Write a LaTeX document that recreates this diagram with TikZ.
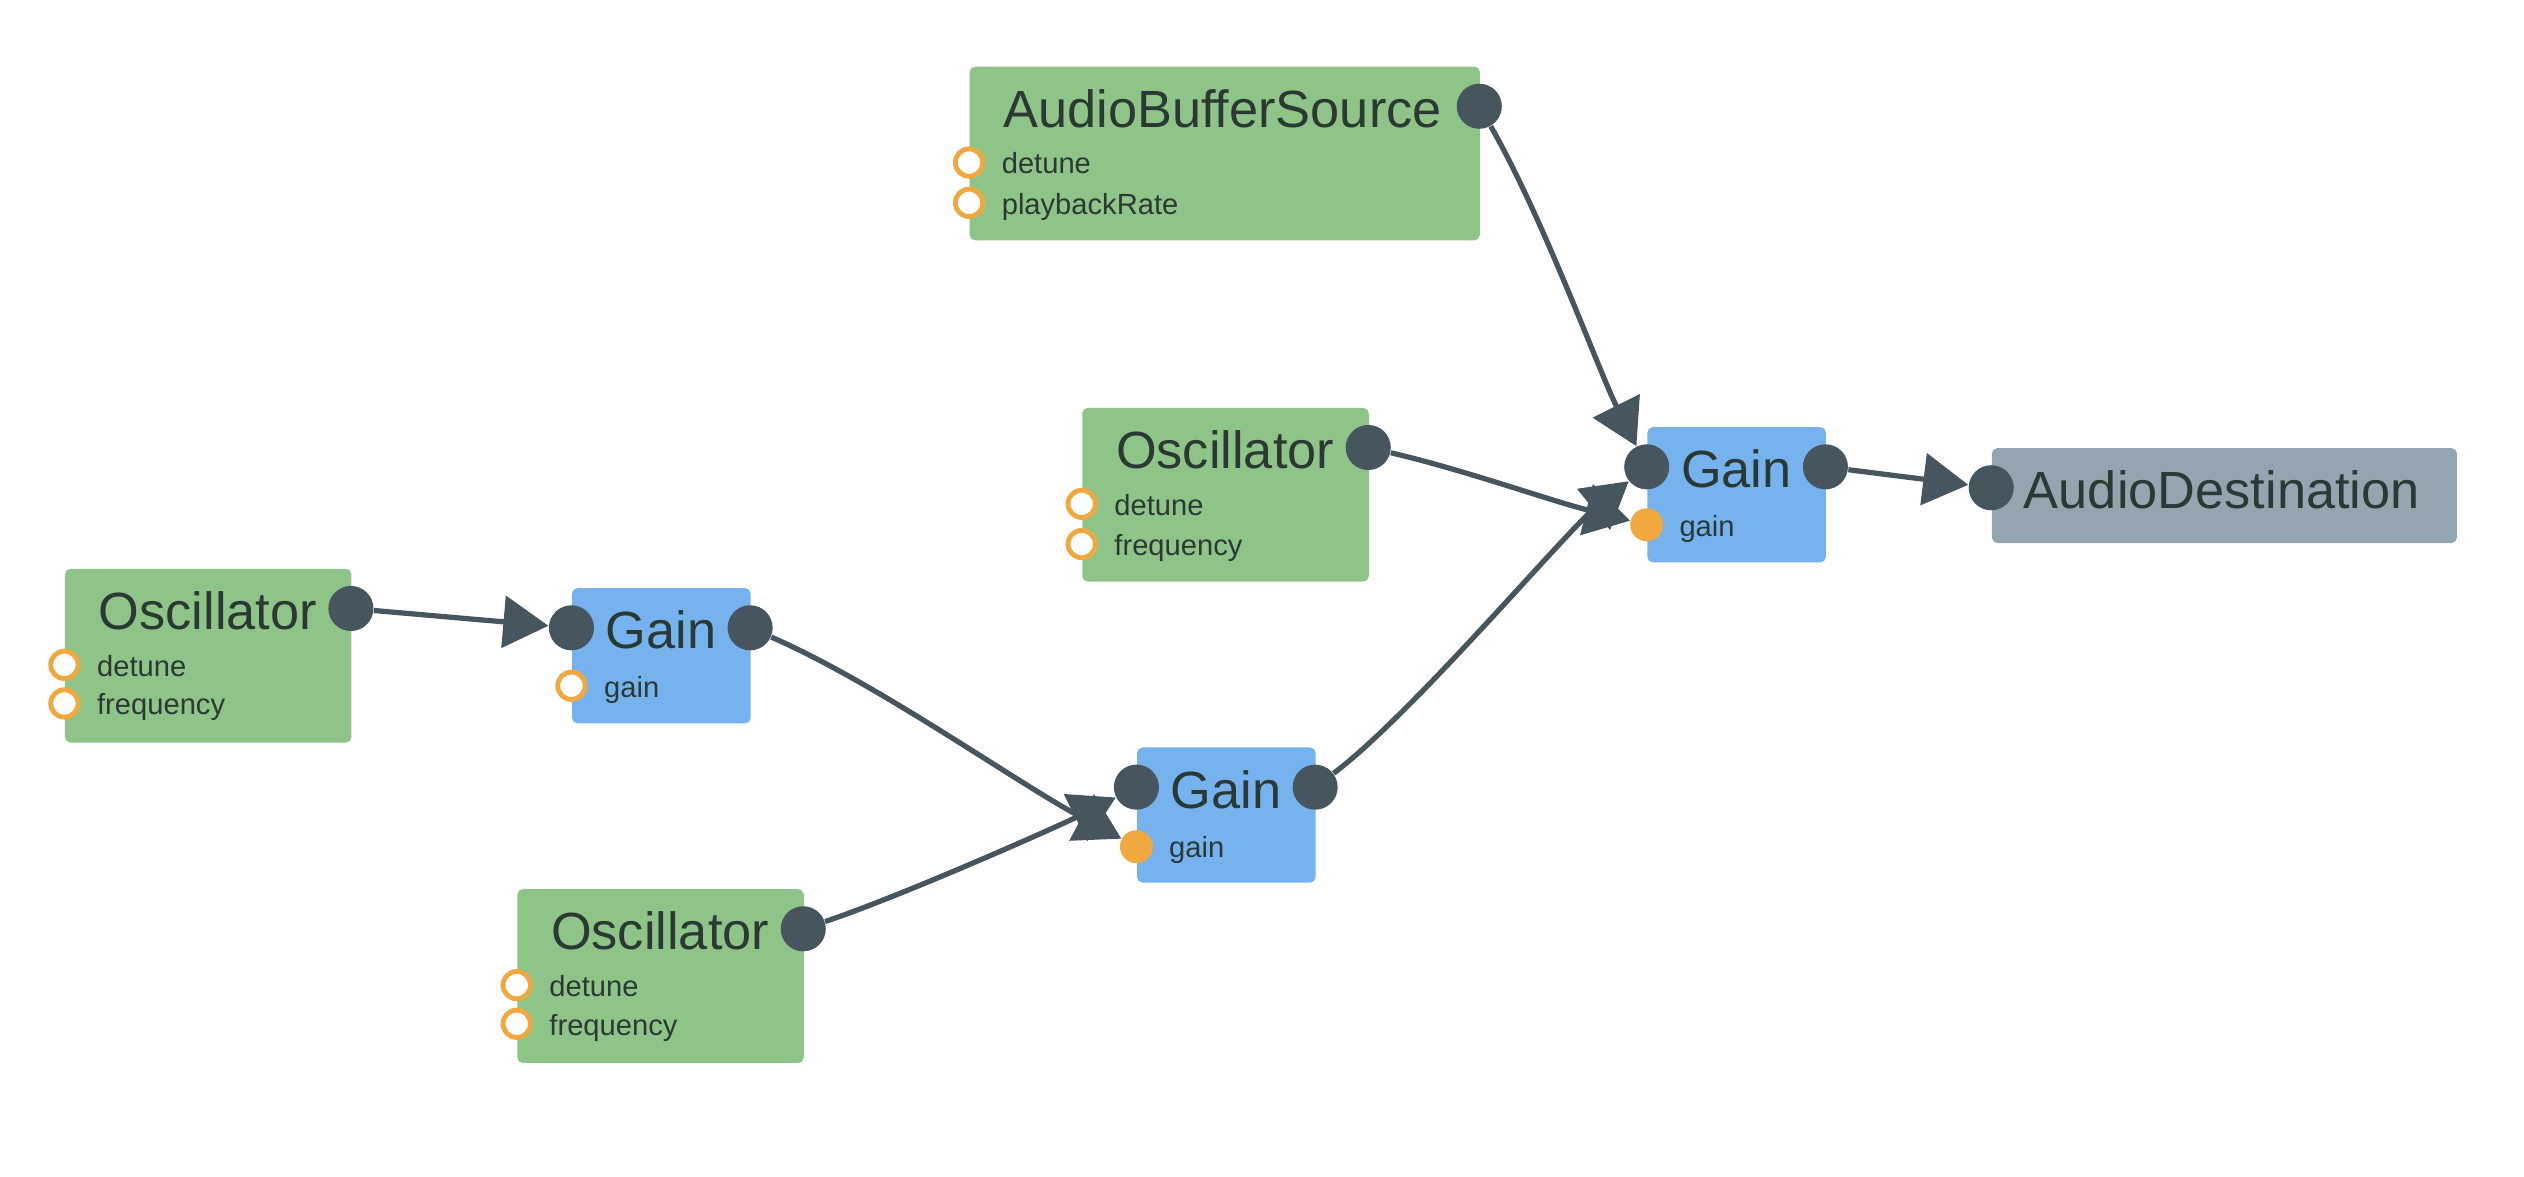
\documentclass[tikz,border=0pt]{standalone}
\usepackage{fontspec}
\setmainfont{Liberation Sans}
\usetikzlibrary{arrows.meta}

\definecolor{nodegreen}{HTML}{8EC487}
\definecolor{gainblue}{HTML}{76B3EE}
\definecolor{destgrey}{HTML}{95A5AF}
\definecolor{portdark}{HTML}{46555E}
\definecolor{paramorange}{HTML}{F0A83F}
\definecolor{textdark}{HTML}{2B3934}

\tikzset{
    box/.style={anchor=north west, inner sep=0pt, rounded corners=0.7mm},
    greenbox/.style={box, fill=nodegreen, minimum height=21.6mm},
    gainbox/.style={box, fill=gainblue, minimum width=22.2mm, minimum height=16.8mm},
    destbox/.style={box, fill=destgrey, minimum width=57.8mm, minimum height=11.8mm},
    heading/.style={anchor=base west, inner sep=0pt, text=textdark, font=\fontsize{18.5}{20}\selectfont},
    paramlabel/.style={anchor=base west, inner sep=0pt, text=textdark, font=\fontsize{10.3}{12}\selectfont},
    port/.style={circle, fill=portdark, inner sep=0pt, minimum size=5.6mm},
    inport/.style={circle, draw=paramorange, line width=0.6mm, fill=white, inner sep=0pt, minimum size=3.4mm},
    inportset/.style={circle, fill=paramorange, inner sep=0pt, minimum size=4.1mm},
    wire/.style={draw=portdark, line width=0.65mm, -{Triangle[length=5.6mm, width=6.4mm]}}
}

\begin{document}
\begin{tikzpicture}[x=0.2mm, y=-0.2mm]
    \useasboundingbox (0,0) rectangle (1568,731);

    % AudioBufferSource
    \node[greenbox, minimum width=63.4mm] (abs) at (602,41) {};
    \node[heading] (abs-title) at (623,79) {AudioBufferSource};
    \node[port] (abs-out) at (919,66) {};
    \node[inport] (abs-detune) at (602,101) {};
    \node[paramlabel] (abs-detune-txt) at (622,108) {detune};
    \node[inport] (abs-rate) at (602,126) {};
    \node[paramlabel] (abs-rate-txt) at (622,133) {playbackRate};

    % oscillators
    \node[greenbox, minimum width=35.6mm] (oscA) at (40,353) {};
    \node[heading] (oscA-title) at (61,391) {Oscillator};
    \node[port] (oscA-out) at (218,378) {};
    \node[inport] (oscA-detune) at (40,413) {};
    \node[paramlabel] (oscA-detune-txt) at (60,420) {detune};
    \node[inport] (oscA-freq) at (40,437) {};
    \node[paramlabel] (oscA-freq-txt) at (60,444) {frequency};

    \node[greenbox, minimum width=35.6mm] (oscB) at (672,253) {};
    \node[heading] (oscB-title) at (693,291) {Oscillator};
    \node[port] (oscB-out) at (850,278) {};
    \node[inport] (oscB-detune) at (672,313) {};
    \node[paramlabel] (oscB-detune-txt) at (692,320) {detune};
    \node[inport] (oscB-freq) at (672,338) {};
    \node[paramlabel] (oscB-freq-txt) at (692,345) {frequency};

    \node[greenbox, minimum width=35.6mm] (oscC) at (321,552) {};
    \node[heading] (oscC-title) at (342,590) {Oscillator};
    \node[port] (oscC-out) at (499,577) {};
    \node[inport] (oscC-detune) at (321,612) {};
    \node[paramlabel] (oscC-detune-txt) at (341,619) {detune};
    \node[inport] (oscC-freq) at (321,636) {};
    \node[paramlabel] (oscC-freq-txt) at (341,643) {frequency};

    % gains
    \node[gainbox] (gainA) at (355,365) {};
    \node[heading] (gainA-title) at (376,403) {Gain};
    \node[port] (gainA-in) at (355,390) {};
    \node[port] (gainA-out) at (466,390) {};
    \node[inport] (gainA-gain) at (355,426) {};
    \node[paramlabel] (gainA-gain-txt) at (375,433) {gain};

    \node[gainbox] (gainB) at (706,464) {};
    \node[heading] (gainB-title) at (727,502) {Gain};
    \node[port] (gainB-in) at (706,489) {};
    \node[port] (gainB-out) at (817,489) {};
    \node[inportset] (gainB-gain) at (706,526) {};
    \node[paramlabel] (gainB-gain-txt) at (726,533) {gain};

    \node[gainbox] (gainC) at (1023,265) {};
    \node[heading] (gainC-title) at (1044,303) {Gain};
    \node[port] (gainC-in) at (1023,290) {};
    \node[port] (gainC-out) at (1134,290) {};
    \node[inportset] (gainC-gain) at (1023,326) {};
    \node[paramlabel] (gainC-gain-txt) at (1043,333) {gain};

    % AudioDestination
    \node[destbox] (dest) at (1237,278) {};
    \node[heading] (dest-title) at (1257,316) {AudioDestination};
    \node[port] (dest-in) at (1237,303) {};

    % connections
    \draw[wire] (oscA-out) -- (gainA-in);
    \draw[wire] (gainC-out) -- (dest-in);
    \draw[wire] (abs-out) .. controls +(40,70) and +(-30,-60) .. (gainC-in);
    \draw[wire] (oscB-out) .. controls +(60,14) and +(-60,-15) .. (gainC-gain);
    \draw[wire] (gainB-out) .. controls +(60,-45) and +(-50,40) .. (gainC-in);
    \draw[wire] (gainA-out) .. controls +(80,35) and +(-75,-40) .. (gainB-gain);
    \draw[wire] (oscC-out) .. controls +(60,-20) and +(-50,25) .. (gainB-in);
\end{tikzpicture}
\end{document}
